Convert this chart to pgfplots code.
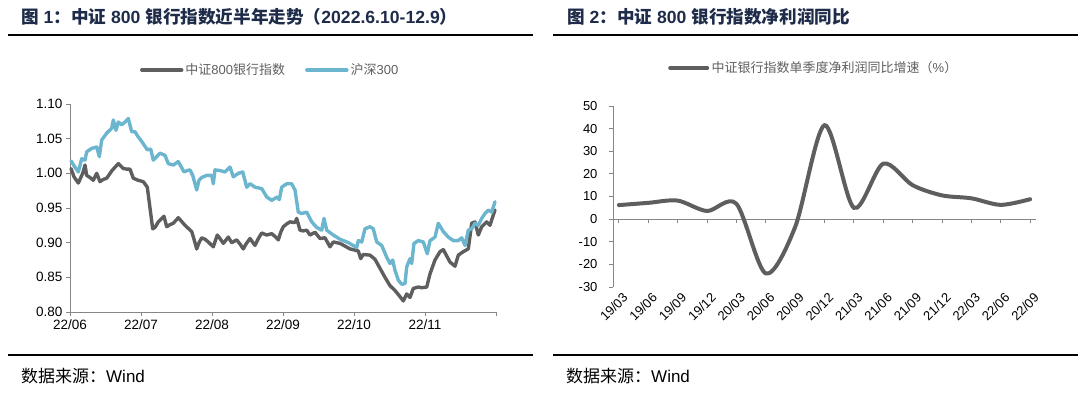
\documentclass[border=0pt]{standalone}
\usepackage{fontspec}
\usepackage{pgfplots}
\pgfplotsset{compat=1.18}
\setmainfont{Liberation Sans}
\newfontfamily\cjk{Noto Sans CJK SC}
\definecolor{linegray}{RGB}{94,94,94}
\definecolor{lineblue}{RGB}{108,181,207}
\definecolor{axisgray}{RGB}{134,134,134}
\definecolor{titleblue}{RGB}{30,44,74}
\definecolor{legendgray}{RGB}{95,95,95}
\begin{document}
\begin{tikzpicture}
\path[use as bounding box] (0pt,0pt) rectangle (1080pt,-394pt);
% titles and rules
\node[anchor=west, inner sep=0pt, text=titleblue, font=\bfseries\fontsize{17.6}{20}\selectfont] at (21pt,-17pt)
  {{\cjk\bfseries 图} 1{\cjk\bfseries ：中证} 800 {\cjk\bfseries 银行指数近半年走势（}2022.6.10-12.9{\cjk\bfseries ）}};
\node[anchor=west, inner sep=0pt, text=titleblue, font=\bfseries\fontsize{17.6}{20}\selectfont] at (567pt,-17pt)
  {{\cjk\bfseries 图} 2{\cjk\bfseries ：中证} 800 {\cjk\bfseries 银行指数净利润同比}};
\draw[line width=2pt] (8pt,-35pt) -- (533pt,-35pt);
\draw[line width=2pt] (553pt,-35pt) -- (1078pt,-35pt);
\draw[line width=1.6pt] (8pt,-355pt) -- (533pt,-355pt);
\draw[line width=1.6pt] (553pt,-355pt) -- (1078pt,-355pt);
\node[anchor=west, inner sep=0pt, font=\fontsize{17}{19}\selectfont] at (21pt,-376pt) {{\cjk 数据来源：}Wind};
\node[anchor=west, inner sep=0pt, font=\fontsize{17}{19}\selectfont] at (566pt,-376pt) {{\cjk 数据来源：}Wind};

% ---------- left chart ----------
\begin{axis}[
  at={(70pt,-312pt)}, anchor=south west, scale only axis,
  width=426pt, height=208pt,
  xmin=0, xmax=426, ymin=0.8, ymax=1.1,
  axis x line*=bottom, axis y line*=left,
  axis line style={draw=axisgray, line width=0.9pt},
  tick align=outside, major tick length=4pt,
  tick style={draw=axisgray, line width=0.9pt},
  xtick={0,71,142,213,284,355,426},
  xticklabels={22/06,22/07,22/08,22/09,22/10,22/11,},
  ytick={0.80,0.85,0.90,0.95,1.00,1.05,1.10},
  /pgf/number format/assume math mode=true,
  yticklabel style={/pgf/number format/.cd, fixed, fixed zerofill, precision=2},
  ticklabel style={font=\fontsize{13.5}{15}\selectfont},
  clip=false,
  legend style={at={(0.164,1.163)}, anchor=west, draw=none, fill=none,
    inner sep=0pt, legend columns=2, font=\fontsize{13}{15}\selectfont, text=legendgray,
    nodes={inner sep=2pt},
    /tikz/every even column/.append style={column sep=18pt}},
  legend image code/.code={\draw[#1] (0pt,0pt) -- (40pt,0pt);},
]
\addplot[linegray, line width=3.4pt, line join=round, line cap=round] coordinates {
(1,1.007) (4,0.995) (8.3,0.986) (12.7,1.000) (15,1.012) (16.7,0.997) (20,0.994) (23.3,0.990) (26.7,1.000) (30,0.988) (33,0.991) (36.7,0.993) (42,1.004) (48.3,1.014) (53.3,1.007) (57,1.006) (60,1.006) (63.3,0.993) (68,0.990) (73.3,0.988) (77.3,0.980) (80,0.950) (82.7,0.920) (85,0.922) (88.3,0.930) (94,0.938) (96.7,0.923) (100,0.926) (103.3,0.928) (108.3,0.936) (112,0.930) (115,0.925) (118,0.921) (121.7,0.916) (124,0.905) (126.7,0.891) (129,0.900) (131.7,0.907) (135,0.905) (138.3,0.901) (143.3,0.894) (147.3,0.911) (150,0.906) (153.3,0.899) (158.3,0.908) (161.7,0.900) (166.7,0.904) (170,0.898) (173.3,0.891) (176,0.898) (180,0.906) (185,0.896) (188,0.905) (191.7,0.914) (196.7,0.911) (201.7,0.913) (205,0.909) (208.3,0.904) (210.7,0.915) (213.3,0.923) (216.7,0.927) (220,0.930) (225,0.929) (226.7,0.935) (230,0.918) (233,0.917) (236.7,0.918) (240,0.911) (245,0.915) (250,0.906) (255,0.907) (260,0.894) (263.3,0.901) (270,0.899) (275,0.895) (280,0.891) (288.3,0.888) (290.7,0.877) (293.3,0.883) (300,0.882) (305,0.876) (310,0.863) (315,0.850) (320,0.838) (325,0.831) (329,0.824) (333.3,0.816) (336.7,0.826) (340,0.821) (343.3,0.834) (348.3,0.836) (352,0.835) (356.7,0.836) (360,0.855) (365,0.875) (370,0.887) (373.3,0.890) (377,0.880) (380,0.872) (385,0.866) (388.3,0.882) (393.3,0.887) (398.3,0.891) (401.7,0.928) (405,0.930) (408.3,0.911) (411.7,0.923) (416.7,0.930) (420,0.925) (423.3,0.940) (425,0.947)
};
\addlegendentry{{\cjk 中证}800{\cjk 银行指数}}
\addplot[lineblue, line width=3.4pt, line join=round, line cap=round] coordinates {
(1,1.018) (4.5,1.010) (8.3,1.002) (11.7,1.021) (15,1.019) (16.7,1.031) (21.7,1.036) (26.7,1.038) (29.3,1.024) (31.7,1.048) (36.7,1.058) (41.7,1.065) (43.3,1.077) (46,1.062) (48.3,1.074) (51.7,1.070) (55,1.074) (58.3,1.079) (61.7,1.060) (65,1.060) (68,1.053) (71.7,1.046) (74.5,1.040) (77.3,1.034) (80.7,1.035) (83.3,1.019) (86.7,1.024) (90,1.029) (95,1.026) (98.3,1.014) (103.3,1.012) (108.3,1.017) (111,1.010) (114,1.002) (117,1.004) (120,1.005) (122.7,0.997) (126.7,0.976) (129,0.990) (131.7,0.994) (136.7,0.997) (141.7,0.997) (143.3,0.985) (145,1.005) (150,1.004) (155,1.002) (160,1.009) (163.3,0.995) (168.3,1.000) (172.7,1.002) (176.7,0.980) (180,0.985) (185,0.980) (191.7,0.978) (196.7,0.966) (201.7,0.961) (207.3,0.966) (209.3,0.962) (211.7,0.980) (216.7,0.985) (221.7,0.985) (225,0.976) (228.3,0.944) (231.7,0.942) (236.7,0.944) (241.7,0.930) (246.7,0.922) (251.7,0.918) (254,0.935) (256.7,0.918) (263.3,0.911) (270,0.905) (278.3,0.900) (286.7,0.893) (288.3,0.903) (291.7,0.901) (295,0.920) (300,0.923) (303.3,0.920) (306.7,0.901) (311.7,0.896) (316.7,0.879) (320,0.870) (322.7,0.875) (325,0.860) (328.3,0.846) (331.7,0.840) (335,0.841) (336.7,0.865) (340,0.877) (341.7,0.870) (344,0.899) (348.3,0.903) (353.3,0.901) (357.3,0.884) (360,0.903) (365,0.908) (368.3,0.928) (373.3,0.916) (378.3,0.908) (383.3,0.903) (388.3,0.903) (391.7,0.907) (395,0.896) (398.3,0.918) (401.7,0.920) (405,0.928) (408.3,0.925) (411.7,0.935) (415,0.942) (418.3,0.947) (421.7,0.944) (425,0.959)
};
\addlegendentry{{\cjk 沪深}300}
\end{axis}

% ---------- right chart ----------
\begin{axis}[
  at={(613pt,-287pt)}, anchor=south west, scale only axis,
  width=423pt, height=181pt,
  xmin=-0.2, xmax=14.2, ymin=-30, ymax=50,
  axis x line*=middle, axis y line*=left,
  hide obscured x ticks=false, hide obscured y ticks=false,
  axis line style={draw=axisgray, line width=0.9pt},
  tick align=outside, major tick length=4pt,
  tick style={draw=axisgray, line width=0.9pt},
  xtick={0,1,...,14},
  xticklabels={19/03,19/06,19/09,19/12,20/03,20/06,20/09,20/12,21/03,21/06,21/09,21/12,22/03,22/06,22/09},
  xticklabel style={yshift=-64pt, xshift=3pt, rotate=45, anchor=north east},
  ytick={-30,-20,-10,0,10,20,30,40,50},
  yticklabel style={xshift=-8pt},
  /pgf/number format/assume math mode=true,
  ticklabel style={font=\fontsize{13}{15}\selectfont},
  clip=false,
  legend style={at={(0.130,1.21)}, anchor=west, draw=none, fill=none,
    inner sep=0pt, font=\fontsize{13}{15}\selectfont, text=legendgray,
    nodes={inner sep=2.5pt}},
  legend image code/.code={\draw[#1] (0pt,0pt) -- (37pt,0pt);},
]
\addplot[linegray, line width=4pt, smooth, tension=0.5, line cap=round] coordinates {
(0,6.2) (1,7.2) (2,8.2) (3,3.6) (4,6.8) (5,-24) (6,-3.5) (7,41.5) (8,5) (9,24.5) (10,15) (11,10.5) (12,9.2) (13,6.3) (14,8.8)
};
\addlegendentry{{\cjk 中证银行指数单季度净利润同比增速（}\%{\cjk ）}}
\end{axis}
\end{tikzpicture}
\end{document}
